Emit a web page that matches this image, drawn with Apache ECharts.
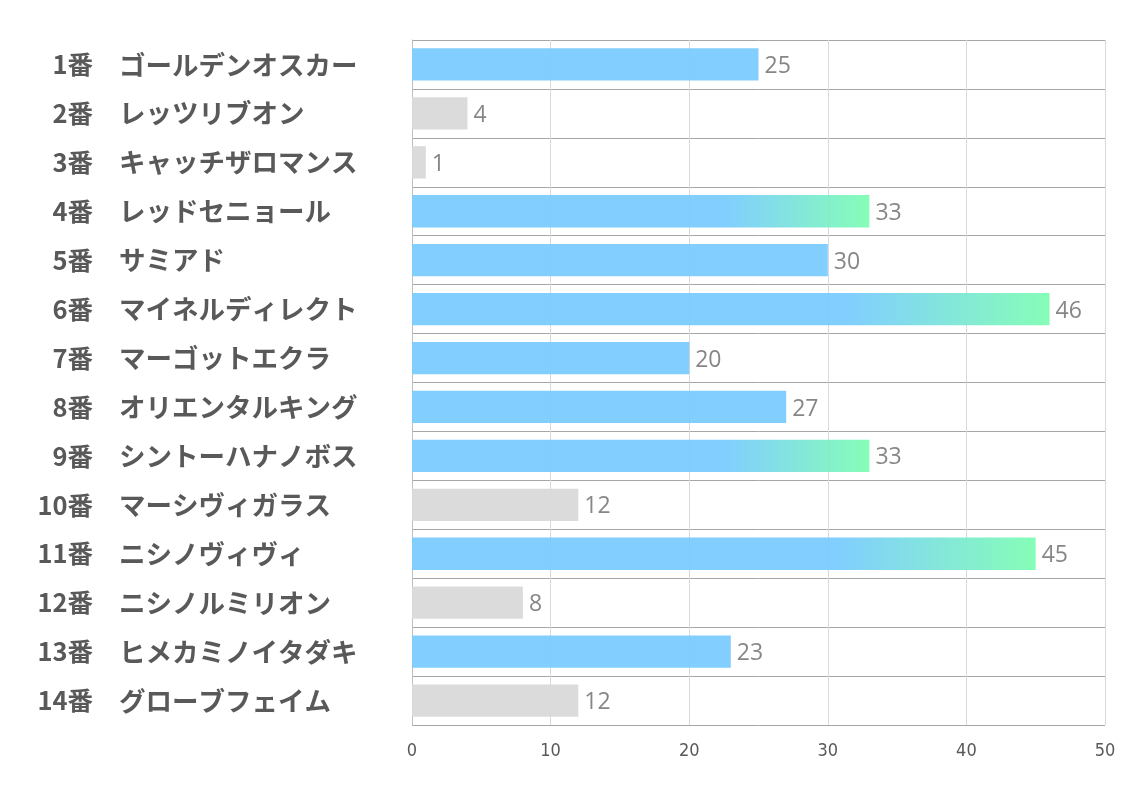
<!DOCTYPE html>
<html><head><meta charset="utf-8">
<script src="https://cdn.jsdelivr.net/npm/echarts@6/dist/echarts.min.js"></script>
<style>html,body{margin:0;padding:0;background:#fff}#c{width:1134px;height:793px}</style>
</head><body><div id="c"></div>
<script>
const numbers = ['1番','2番','3番','4番','5番','6番','7番','8番','9番','10番','11番','12番','13番','14番'];
const names = ['ゴールデンオスカー','レッツリブオン','キャッチザロマンス','レッドセニョール','サミアド','マイネルディレクト','マーゴットエクラ','オリエンタルキング','シントーハナノボス','マーシヴィガラス','ニシノヴィヴィ','ニシノルミリオン','ヒメカミノイタダキ','グローブフェイム'];
const values = [25,4,1,33,30,46,20,27,33,12,45,8,23,12];
const xTicks = [0,10,20,30,40,50];

const BLUE = '#7acbff', GRAY = '#d9d9d9', GREEN = '#7ffdb3';
function colorFor(v){
  if (v < 20) return GRAY;
  if (v <= 30) return BLUE;
  return new echarts.graphic.LinearGradient(0,0,1,0,[
    {offset:0,color:BLUE},{offset:0.68,color:BLUE},{offset:1,color:GREEN}]);
}
const labelFont = {fontWeight:'bold',color:'#595959',fontFamily:'"Noto Sans CJK JP",sans-serif'};
const chart = echarts.init(document.getElementById('c'));
chart.setOption({
  animation:false,
  grid:{left:412,right:29,top:40,bottom:68,containLabel:false},
  xAxis:{type:'value',min:xTicks[0],max:xTicks[xTicks.length-1],interval:10,
    axisLine:{show:false},axisTick:{show:false},
    splitLine:{show:true,lineStyle:{color:'#d9d9d9',width:1}},
    axisLabel:{color:'#595959',fontSize:18,margin:17,fontFamily:'"Liberation Sans Narrow","DejaVu Sans Condensed",sans-serif'}},
  yAxis:[{type:'category',data:names,inverse:true,position:'left',
    axisLine:{show:true,lineStyle:{color:'#bfbfbf'}},axisTick:{show:false},
    splitLine:{show:true,lineStyle:{color:'#a6a6a6',width:1}},
    axisLabel:Object.assign({align:'left',margin:293,fontSize:26.5},labelFont)},
   {type:'category',data:numbers,inverse:true,position:'left',offset:0,
    axisLine:{show:false},axisTick:{show:false},splitLine:{show:false},
    axisLabel:Object.assign({align:'right',margin:319,fontSize:25.5},labelFont)}],
  series:[{type:'bar',barCategoryGap:'34%',yAxisIndex:0,
    data:values.map(v=>({value:v,itemStyle:{color:colorFor(v),opacity:0.95}})),
    label:{show:true,position:'right',distance:6,color:'#7f7f7f',fontSize:23,offset:[0,2],fontFamily:'"Open Sans","Noto Sans",sans-serif'}
  }]
});
</script></body></html>
